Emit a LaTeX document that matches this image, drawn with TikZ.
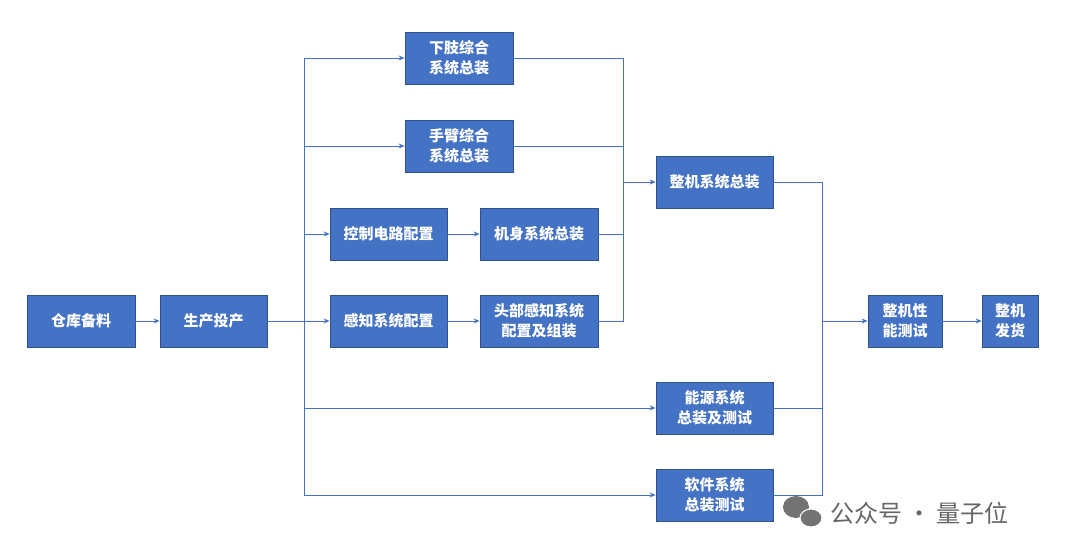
\documentclass[tikz,border=0pt]{standalone}
\usepackage{fontspec}
\setmainfont{Noto Sans CJK SC}
\usetikzlibrary{arrows.meta}
\definecolor{bx}{HTML}{4472C4}
\definecolor{bd}{HTML}{2F528F}
\begin{document}
\begin{tikzpicture}[x=1pt,y=-1pt,
  box/.style={draw=bd,fill=bx,line width=0.8pt,text=white,font=\fontsize{15}{20}\selectfont\bfseries,align=center,inner sep=0pt},
  ln/.style={draw=bx,line width=0.9pt},
  ar/.style={ln,-{Stealth[length=6pt,width=5pt]}}]
\useasboundingbox (0,0) rectangle (1080,556);
\newcommand{\bxat}[6]{\node[box,minimum width=#4-#2,minimum height=#5-#3] (#1) at ({(#2+#4)/2},{(#3+#5)/2}) {#6};}
\bxat{ck}{27}{295}{135}{347}{仓库备料}
\bxat{sc}{160}{295}{267}{347}{生产投产}
\bxat{xz}{405}{32}{513}{84}{下肢综合\\系统总装}
\bxat{sb}{405}{120}{513}{172}{手臂综合\\系统总装}
\bxat{kz}{330}{208}{447}{260}{控制电路配置}
\bxat{js}{480}{208}{598}{260}{机身系统总装}
\bxat{gz}{330}{295}{447}{347}{感知系统配置}
\bxat{tb}{480}{295}{598}{347}{头部感知系统\\配置及组装}
\bxat{zj}{656}{156}{773}{208}{整机系统总装}
\bxat{ny}{656}{382}{773}{434}{能源系统\\总装及测试}
\bxat{rj}{656}{469}{773}{521}{软件系统\\总装测试}
\bxat{xn}{868}{295}{942}{347}{整机性\\能测试}
\bxat{fh}{982}{295}{1038}{347}{整机\\发货}
\coordinate (t0) at (304,58);
\coordinate (t1) at (304,495);
\coordinate (r0) at (623,58);
\coordinate (r1) at (623,321);
\coordinate (q0) at (822,182);
\coordinate (q1) at (822,495);
\draw[ar] (ck) -- (sc);
\draw[ln] (sc.east) -- (304,321);
\draw[ln] (t0) -- (t1);
\draw[ar] (t0) -- (xz.west);
\draw[ar] (304,146) -- (sb.west);
\draw[ar] (304,234) -- (kz.west);
\draw[ar] (304,321) -- (gz.west);
\draw[ar] (304,408) -- (ny.west);
\draw[ar] (t1) -- (rj.west);
\draw[ar] (kz) -- (js);
\draw[ar] (gz) -- (tb);
\draw[ln] (xz.east) -- (r0) -- (r1) -- (tb.east);
\draw[ln] (sb.east) -- (623,146);
\draw[ln] (js.east) -- (623,234);
\draw[ar] (623,182) -- (zj.west);
\draw[ln] (zj.east) -- (q0) -- (q1) -- (rj.east);
\draw[ln] (ny.east) -- (822,408);
\draw[ar] (822,321) -- (xn.west);
\draw[ar] (xn) -- (fh);
\fill[black!55] (796,507) ellipse (13 and 11);
\fill[black!55] (811,518) ellipse (11 and 9);
\draw[white,line width=1pt] (811,518) ellipse (11 and 9);
\node[text=black!60,font=\fontsize{24}{27}\selectfont,anchor=west,inner sep=0pt] (wm) at (830,513) {公众号 · 量子位};
\end{tikzpicture}
\end{document}
